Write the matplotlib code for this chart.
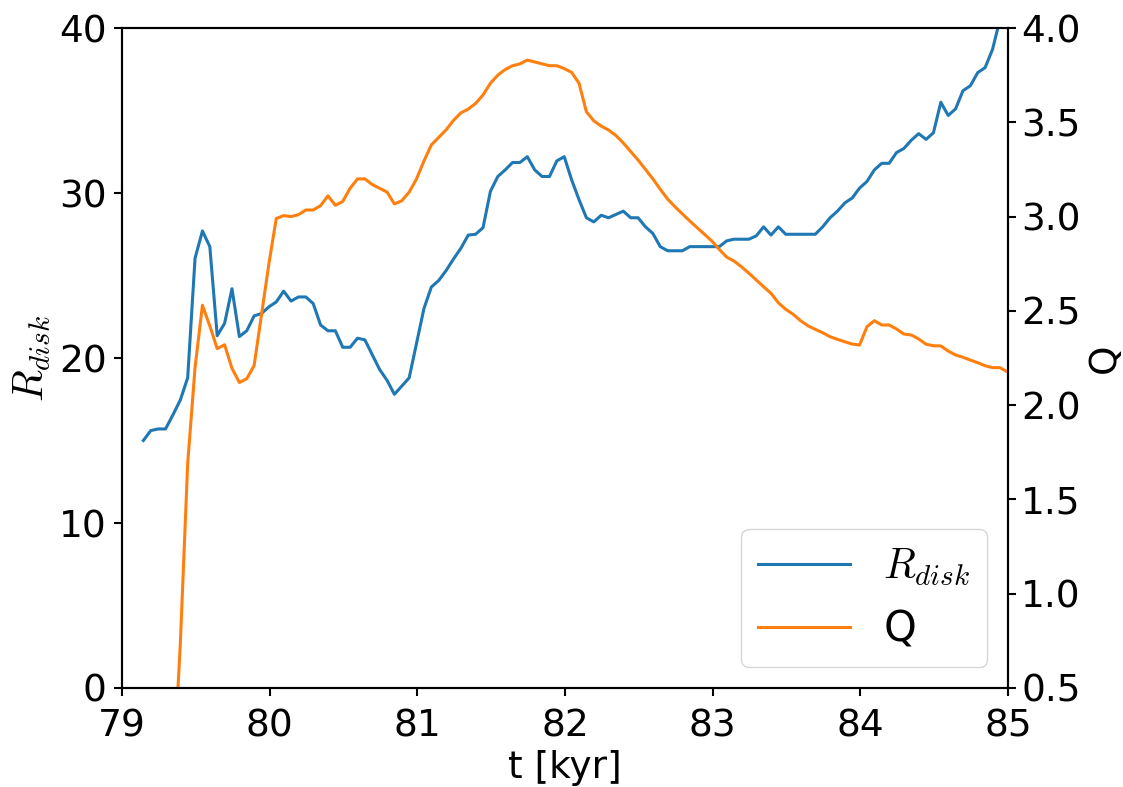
import matplotlib
matplotlib.use("Agg")
import matplotlib.pyplot as plt
import numpy as np

plt.rcParams['font.family'] = ['DejaVu Sans']
plt.rcParams['mathtext.fontset'] = 'cm'
plt.rcParams['font.size'] = 27

# simulation time [kyr]
t = [79.145, 79.195, 79.245, 79.295, 79.345, 79.395, 79.445, 79.495, 79.545, 79.595,
     79.645, 79.695, 79.745, 79.795, 79.845, 79.895, 79.945, 79.995, 80.045, 80.095,
     80.145, 80.195, 80.245, 80.295, 80.345, 80.395, 80.445, 80.495, 80.545, 80.595,
     80.645, 80.695, 80.745, 80.795, 80.845, 80.895, 80.945, 80.995, 81.045, 81.095,
     81.145, 81.195, 81.245, 81.295, 81.345, 81.395, 81.445, 81.495, 81.545, 81.595,
     81.645, 81.695, 81.745, 81.795, 81.845, 81.895, 81.945, 81.995, 82.045, 82.095,
     82.145, 82.195, 82.245, 82.295, 82.345, 82.395, 82.445, 82.495, 82.545, 82.595,
     82.645, 82.695, 82.745, 82.795, 82.845, 82.895, 82.945, 82.995, 83.045, 83.095,
     83.145, 83.195, 83.245, 83.295, 83.345, 83.395, 83.445, 83.495, 83.545, 83.595,
     83.645, 83.695, 83.745, 83.795, 83.845, 83.895, 83.945, 83.995, 84.045, 84.095,
     84.145, 84.195, 84.245, 84.295, 84.345, 84.395, 84.445, 84.495, 84.545, 84.595,
     84.645, 84.695, 84.745, 84.795, 84.845, 84.895, 84.945, 84.995]

# disk radius
r_disk = [15.0, 15.6, 15.7, 15.7, 16.55, 17.45, 18.8, 26.05, 27.7, 26.75,
          21.35, 22.1, 24.2, 21.3, 21.65, 22.55, 22.7, 23.1, 23.4, 24.05,
          23.45, 23.7, 23.7, 23.3, 22.0, 21.65, 21.65, 20.65, 20.65, 21.2,
          21.1, 20.2, 19.3, 18.65, 17.8, 18.3, 18.8, 20.9, 23.0, 24.3,
          24.7, 25.3, 26.0, 26.65, 27.45, 27.5, 27.9, 30.1, 31.0, 31.4,
          31.85, 31.85, 32.2, 31.4, 31.0, 31.0, 31.95, 32.2, 30.8, 29.6,
          28.5, 28.25, 28.65, 28.5, 28.7, 28.9, 28.5, 28.5, 27.95, 27.55,
          26.75, 26.5, 26.5, 26.5, 26.75, 26.75, 26.75, 26.75, 26.75, 27.1,
          27.2, 27.2, 27.2, 27.4, 27.95, 27.45, 27.95, 27.5, 27.5, 27.5,
          27.5, 27.5, 27.95, 28.5, 28.9, 29.4, 29.7, 30.3, 30.7, 31.4,
          31.8, 31.8, 32.45, 32.7, 33.2, 33.6, 33.25, 33.65, 35.5, 34.7,
          35.1, 36.2, 36.5, 37.3, 37.6, 38.7, 40.5, 42.0]

# Toomre Q
q = [0.0, 0.0, 0.0, 0.0, 0.0, 0.73, 1.69, 2.20, 2.53, 2.42,
     2.30, 2.32, 2.195, 2.12, 2.14, 2.21, 2.48, 2.75, 2.99, 3.005,
     3.00, 3.01, 3.035, 3.035, 3.058, 3.11, 3.06, 3.08, 3.15, 3.20,
     3.20, 3.17, 3.15, 3.13, 3.067, 3.084, 3.13, 3.20, 3.295, 3.38,
     3.42, 3.46, 3.51, 3.55, 3.57, 3.60, 3.645, 3.707, 3.75, 3.78,
     3.80, 3.81, 3.83, 3.82, 3.81, 3.80, 3.80, 3.785, 3.765, 3.707,
     3.556, 3.508, 3.48, 3.459, 3.43, 3.39, 3.345, 3.30, 3.25, 3.20,
     3.145, 3.093, 3.052, 3.014, 2.977, 2.941, 2.906, 2.87, 2.826, 2.785,
     2.764, 2.734, 2.70, 2.664, 2.628, 2.593, 2.543, 2.508, 2.482, 2.448,
     2.421, 2.402, 2.384, 2.363, 2.349, 2.336, 2.324, 2.319, 2.416, 2.448,
     2.425, 2.425, 2.404, 2.377, 2.372, 2.351, 2.323, 2.315, 2.314, 2.287,
     2.266, 2.254, 2.239, 2.225, 2.209, 2.199, 2.199, 2.177]

fig = plt.figure(figsize=(11.23, 7.87), dpi=100)
ax1 = fig.add_axes([0.1086, 0.1258, 0.7890, 0.8386])
ax2 = ax1.twinx()

l1, = ax1.plot(t, r_disk, color='C0', lw=2.2, label=r'$R_{disk}$')
l2, = ax2.plot(t, q, color='C1', lw=2.2, label='Q')

ax1.set_xlim(79, 85)
ax1.set_ylim(0, 40)
ax2.set_ylim(0.5, 4.0)
ax1.set_yticks([0, 10, 20, 30, 40])
ax2.set_yticks(np.arange(0.5, 4.01, 0.5))
ax2.set_yticklabels(['%.1f' % v for v in np.arange(0.5, 4.01, 0.5)])

ax1.set_xlabel('t [kyr]', labelpad=4)
ax1.set_ylabel(r'$R_{disk}$', fontsize=30)
ax2.set_ylabel('Q')

for a in (ax1, ax2):
    for s in a.spines.values():
        s.set_linewidth(1.5)
    a.tick_params(width=1.5, length=6)
ax1.tick_params(axis='x', pad=9)
ax1.tick_params(axis='y', pad=5)

ax1.legend([l1, l2], [r'$R_{disk}$', 'Q'], loc='lower right', fontsize=30,
           handlelength=2.2)

fig.savefig('out.png', dpi=100)
